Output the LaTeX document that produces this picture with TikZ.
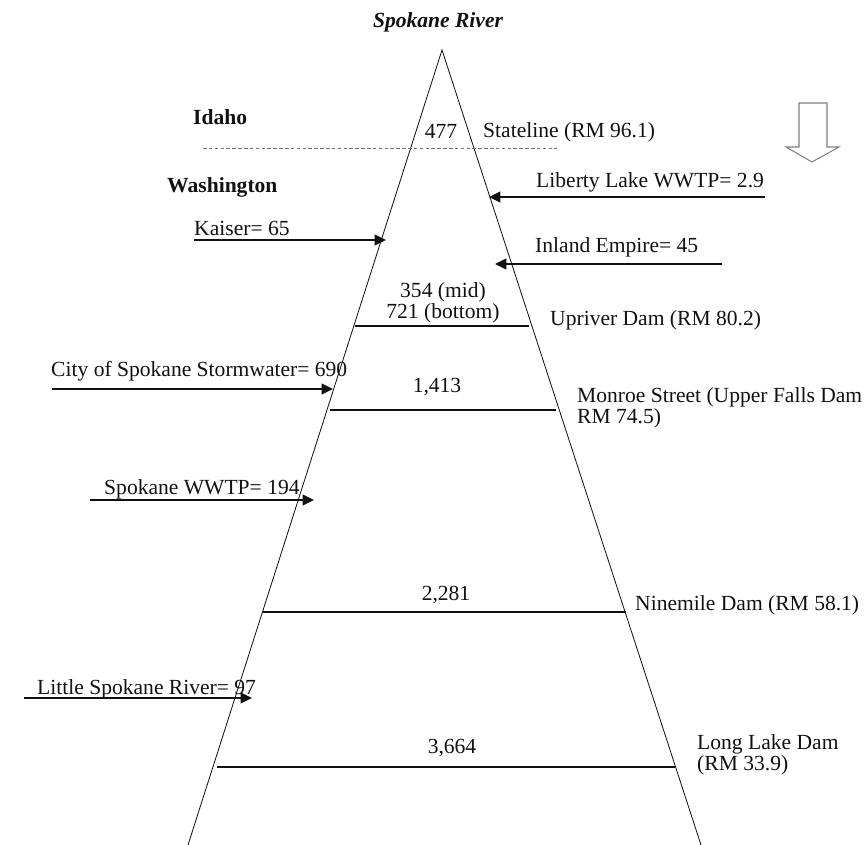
\documentclass[tikz,border=0pt]{standalone}
\usepackage{fontspec}
\setmainfont{Liberation Serif}
\usepackage{tikz}
\usetikzlibrary{arrows.meta,positioning}
\definecolor{inkc}{HTML}{111111}
\definecolor{dashc}{HTML}{707070}
\definecolor{flowc}{HTML}{808080}
\tikzset{
  ar/.style={-{Triangle[length=3.4mm,width=3.2mm]},line width=1.4pt,inkc},
  dam/.style={line width=1.1pt,inkc},
  txt/.style={font=\fontsize{18.4}{18}\selectfont,inner sep=0pt,text height=0.72em,text depth=0.22em,yshift=-3.8pt,inkc},
  ml/.style={font=\fontsize{18.4}{18}\selectfont,inner sep=0pt,yshift=-3.8pt,inkc}
}
\begin{document}
\begin{tikzpicture}[x=0.03cm,y=-0.03cm]
\useasboundingbox (0,0) rectangle (866,845);
% river outline
\coordinate (apex) at (442,50);
\coordinate (bl) at (188,845);
\coordinate (br) at (701,845);
\draw[line width=0.7pt,inkc] (bl) -- (apex) -- (br);
% state line
\coordinate (sl1) at (203,148);
\coordinate (sl2) at (557,148);
\draw[dashc,line width=0.8pt,dash pattern=on 3pt off 2pt] (sl1) -- (sl2);
% dams
\foreach \y/\xa/\xb in {326/355/529,410/330/556,612/263/626,767/217/675}{
  \draw[dam] (\xa,\y) -- (\xb,\y);
}
% flow direction
\draw[flowc,line width=0.9pt] (799,103) -- (827,103) -- (827,147) -- (839,147) -- (812,162) -- (786,147) -- (799,147) -- cycle;
% labels
\node[txt,font=\fontsize{18.4}{18}\selectfont\bfseries\itshape] (title) at (438,20) {Spokane River};
\node[txt,font=\fontsize{18.4}{18}\selectfont\bfseries,anchor=west] (idaho) at (193,117) {Idaho};
\node[txt,font=\fontsize{18.4}{18}\selectfont\bfseries,anchor=west] (washington) at (167,185) {Washington};
\node[txt] (v477) at (441,131) {477};
\node[txt,anchor=west] (stateline) at (483,130) {Stateline (RM 96.1)};
\node[txt,anchor=west] (liberty) at (536,180) {Liberty Lake WWTP= 2.9};
\node[txt,anchor=west] (inland) at (535,245) {Inland Empire= 45};
\node[txt,anchor=west] (kaiser) at (194,228) {Kaiser= 65};
\node[ml,align=center] (v354) at (443,298) {354 (mid)\\721 (bottom)};
\node[txt,anchor=west] (upriver) at (550,318) {Upriver Dam (RM 80.2)};
\node[txt,anchor=west] (storm) at (51,369) {City of Spokane Stormwater= 690};
\node[txt] (v1413) at (437,385) {1,413};
\node[ml,align=left,anchor=west] (monroe) at (577,403) {Monroe Street (Upper Falls Dam\\RM 74.5)};
\node[txt,anchor=west] (wwtp) at (104,487) {Spokane WWTP= 194};
\node[txt] (v2281) at (446,593) {2,281};
\node[txt,anchor=west] (ninemile) at (635,603) {Ninemile Dam (RM 58.1)};
\node[txt,anchor=west] (little) at (37,687) {Little Spokane River= 97};
\node[txt] (v3664) at (452,746) {3,664};
\node[ml,align=left,anchor=west] (longlake) at (697,750) {Long Lake Dam\\(RM 33.9)};
% inflows
\coordinate (libS) at (765,197);
\coordinate (libE) at (489,197);
\coordinate (inlS) at (722,264);
\coordinate (inlE) at (495,264);
\coordinate (kaiS) at (194,240);
\coordinate (kaiE) at (386,240);
\coordinate (stoS) at (52,389);
\coordinate (stoE) at (333,389);
\coordinate (wwtS) at (90,500);
\coordinate (wwtE) at (314,500);
\coordinate (litS) at (24,698);
\coordinate (litE) at (252,698);
\draw[ar] (libS) -- (libE);
\draw[ar] (inlS) -- (inlE);
\draw[ar] (kaiS) -- (kaiE);
\draw[ar] (stoS) -- (stoE);
\draw[ar] (wwtS) -- (wwtE);
\draw[ar] (litS) -- (litE);
\end{tikzpicture}
\end{document}
